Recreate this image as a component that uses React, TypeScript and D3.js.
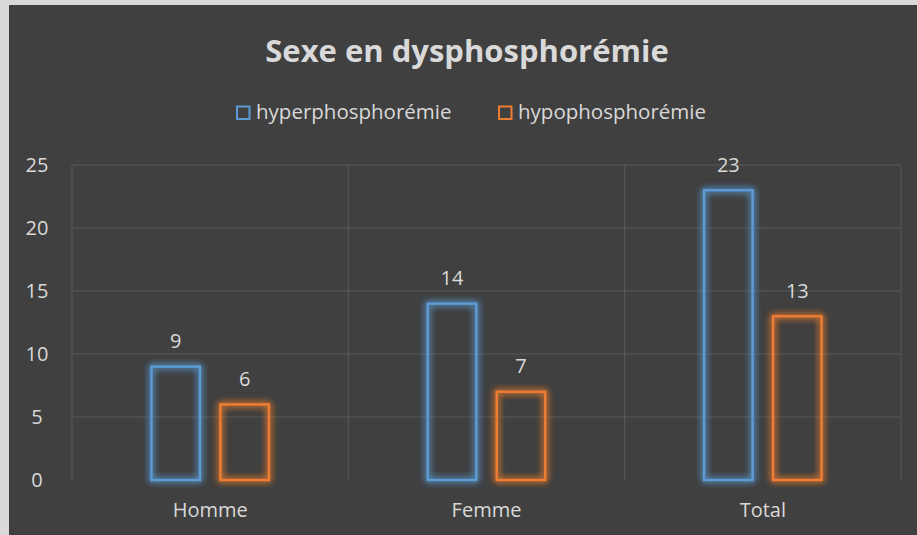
import React, { useEffect, useRef } from "react";
import * as d3 from "d3";

const categories = ["Homme", "Femme", "Total"];
const seriesNames = ["hyperphosphorémie", "hypophosphorémie"];
const hyperValues = [9, 14, 23];
const hypoValues = [6, 7, 13];
const yTicks = [0, 5, 10, 15, 20, 25];
const seriesColors = ["#5b9bd5", "#ed7d31"];

const W = 917;
const H = 535;

function drawChart(container: SVGSVGElement) {
  const svg = d3.select(container);
  svg.selectAll("*").remove();

  const font = "'Open Sans', sans-serif";
  const textColor = "#d9d9d9";

  // page edge + dark chart area
  svg.append("rect").attr("width", W).attr("height", H).attr("fill", "#d9d9d9");
  svg
    .append("rect")
    .attr("x", 9)
    .attr("y", 5)
    .attr("width", W - 9)
    .attr("height", H - 5)
    .attr("fill", "#404040");

  // glow filter
  const defs = svg.append("defs");
  seriesColors.forEach((c, i) => {
    const f = defs
      .append("filter")
      .attr("id", `glow${i}`)
      .attr("x", "-30%")
      .attr("y", "-30%")
      .attr("width", "160%")
      .attr("height", "160%");
    f.append("feGaussianBlur")
      .attr("in", "SourceGraphic")
      .attr("stdDeviation", 3.5)
      .attr("result", "blur");
    const m = f.append("feMerge");
    m.append("feMergeNode").attr("in", "blur");
    m.append("feMergeNode").attr("in", "blur");
    m.append("feMergeNode").attr("in", "SourceGraphic");
  });

  const plot = { left: 72, right: 901, top: 165, bottom: 480 };

  const x = d3
    .scaleBand<string>()
    .domain(categories)
    .range([plot.left, plot.right])
    .padding(0);
  const inner = d3
    .scaleBand<string>()
    .domain(seriesNames)
    .range([-60, 60])
    .paddingInner(0.26)
    .paddingOuter(0);
  const y = d3.scaleLinear().domain([0, 25]).range([plot.bottom, plot.top]);

  // horizontal grid
  svg
    .append("g")
    .selectAll("line")
    .data(yTicks.filter((t) => t > 0))
    .enter()
    .append("line")
    .attr("x1", plot.left)
    .attr("x2", plot.right)
    .attr("y1", (d) => y(d))
    .attr("y2", (d) => y(d))
    .attr("stroke", "#595959")
    .attr("stroke-width", 1);

  // vertical grid at category boundaries
  const bounds = categories.map((c) => x(c) as number).concat([plot.right]);
  svg
    .append("g")
    .selectAll("line")
    .data(bounds)
    .enter()
    .append("line")
    .attr("x1", (d) => d)
    .attr("x2", (d) => d)
    .attr("y1", plot.top)
    .attr("y2", plot.bottom)
    .attr("stroke", "#595959")
    .attr("stroke-width", 1);

  // y tick labels
  svg
    .append("g")
    .selectAll("text")
    .data(yTicks)
    .enter()
    .append("text")
    .attr("x", 37)
    .attr("y", (d) => y(d))
    .attr("dy", "0.35em")
    .attr("text-anchor", "middle")
    .attr("fill", textColor)
    .style("font-family", font)
    .style("font-size", "20px")
    .text((d) => d);

  // x labels
  svg
    .append("g")
    .selectAll("text")
    .data(categories)
    .enter()
    .append("text")
    .attr("x", (d) => (x(d) as number) + x.bandwidth() / 2)
    .attr("y", 517)
    .attr("text-anchor", "middle")
    .attr("fill", textColor)
    .style("font-family", font)
    .style("font-size", "20px")
    .text((d) => d);

  // bars
  const allValues = [hyperValues, hypoValues];
  allValues.forEach((vals, si) => {
    const g = svg.append("g").attr("filter", `url(#glow${si})`);
    g.selectAll("rect")
      .data(vals)
      .enter()
      .append("rect")
      .attr(
        "x",
        (d, i) =>
          (x(categories[i]) as number) +
          x.bandwidth() / 2 +
          (inner(seriesNames[si]) as number) +
          1.25
      )
      .attr("y", (d) => y(d))
      .attr("width", inner.bandwidth() - 2.5)
      .attr("height", (d) => plot.bottom - y(d))
      .attr("fill", "none")
      .attr("stroke", seriesColors[si])
      .attr("stroke-width", 2.5);

    svg
      .append("g")
      .selectAll("text")
      .data(vals)
      .enter()
      .append("text")
      .attr(
        "x",
        (d, i) =>
          (x(categories[i]) as number) +
          x.bandwidth() / 2 +
          (inner(seriesNames[si]) as number) +
          inner.bandwidth() / 2
      )
      .attr("y", (d) => y(d) - 18.5)
      .attr("text-anchor", "middle")
      .attr("fill", textColor)
      .style("font-family", font)
      .style("font-size", "20px")
      .text((d) => d);
  });

  // title
  svg
    .append("text")
    .attr("x", 467)
    .attr("y", 62)
    .attr("text-anchor", "middle")
    .attr("fill", textColor)
    .style("font-family", font)
    .style("font-size", "31px")
    .style("font-weight", "bold")
    .text("Sexe en dysphosphorémie");

  // legend
  const legendX = [236, 498];
  seriesNames.forEach((name, i) => {
    svg
      .append("rect")
      .attr("x", legendX[i] + 1)
      .attr("y", 106.5)
      .attr("width", 12.5)
      .attr("height", 12.5)
      .attr("fill", "none")
      .attr("stroke", seriesColors[i])
      .attr("stroke-width", 2);
    svg
      .append("text")
      .attr("x", legendX[i] + 20)
      .attr("y", 119)
      .attr("fill", textColor)
      .style("font-family", font)
      .style("font-size", "20.5px")
      .text(name);
  });
}

export default function App() {
  const ref = useRef<SVGSVGElement>(null);
  useEffect(() => {
    if (ref.current) drawChart(ref.current);
  }, []);
  return (
    <svg
      ref={ref}
      width={W}
      height={H}
      style={{ position: "absolute", left: 0, top: 0 }}
    />
  );
}
